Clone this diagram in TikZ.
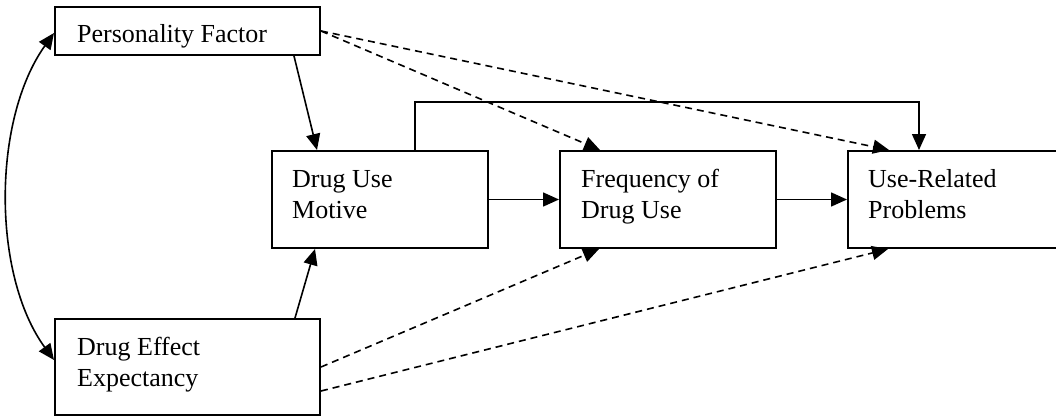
\documentclass[tikz,border=0pt]{standalone}
\usepackage{fontspec}
\setmainfont{Liberation Serif}
\usetikzlibrary{arrows.meta}
\begin{document}
\begin{tikzpicture}[x=1pt,y=-1pt,
  box/.style={draw, line width=2pt, rectangle, inner sep=0pt},
  label text/.style={anchor=base west, inner sep=0pt, align=left,
    font=\fontsize{26}{31}\selectfont},
  link/.style={line width=1.6pt, -{Triangle[length=16pt,width=14pt]}},
  maybe/.style={link, dash pattern=on 7pt off 5pt},
  both/.style={line width=1.6pt, {Triangle[length=16pt,width=14pt]}-{Triangle[length=16pt,width=14pt]}}]
\useasboundingbox (0,0) rectangle (1056,417);
\clip (0,0) rectangle (1056,417);

% boxes
\node[box, minimum width=265pt, minimum height=48pt] (pf)  at (187.5,31)   {};
\node[box, minimum width=265pt, minimum height=96pt] (dee) at (187.5,367)  {};
\node[box, minimum width=216pt, minimum height=97pt] (dum) at (380,199.5)  {};
\node[box, minimum width=216pt, minimum height=97pt] (fdu) at (668,199.5)  {};
\node[box, minimum width=216pt, minimum height=97pt] (urp) at (956,199.5)  {};

% box texts (base anchor sits on the last line)
\node[label text] (pf-t)  at (77,43)   {Personality Factor};
\node[label text] (dee-t) at (77,386)  {Drug Effect\\Expectancy};
\node[label text] (dum-t) at (292,218) {Drug Use\\Motive};
\node[label text] (fdu-t) at (581,218) {Frequency of\\Drug Use};
\node[label text] (urp-t) at (868,218) {Use-Related\\Problems};

% direct paths
\draw[link] ([xshift=240pt]pf.south west) -- ([xshift=46pt]dum.north west);
\draw[link] ([xshift=241pt]dee.north west) -- ([xshift=44pt]dum.south west);
\draw[link] (dum.east) -- (fdu.west);
\draw[link] (fdu.east) -- (urp.west);
\draw[link] ([xshift=144pt]dum.north west) -- ++(0,-48) -| ([xshift=72pt]urp.north west);

% hypothesised paths
\draw[maybe] (pf.east) -- ([xshift=41pt]fdu.north west);
\draw[maybe] (pf.east) -- ([xshift=42pt]urp.north west);
\draw[maybe] (dee.east) -- ([xshift=40pt]fdu.south west);
\draw[maybe] ([yshift=-24pt]dee.east) -- ([xshift=41pt]urp.south west);

% correlation between the two predictors
\draw[both] ([yshift=-2pt]pf.west) .. controls (-8,120) and (-8,275) .. ([yshift=7pt]dee.west);
\end{tikzpicture}
\end{document}
